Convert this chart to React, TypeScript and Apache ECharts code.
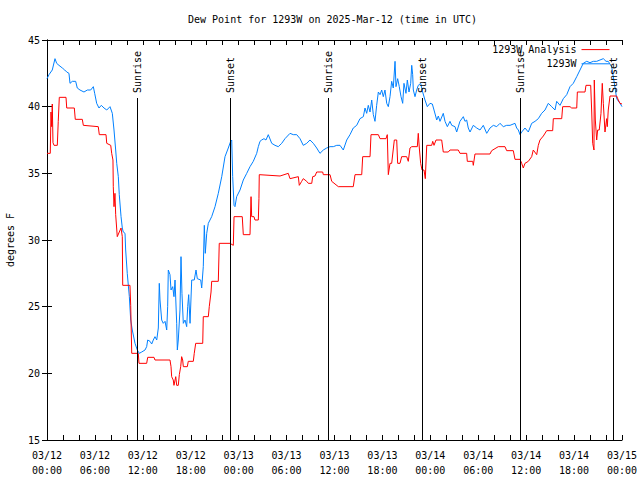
import React, { useEffect, useRef } from "react";
import * as echarts from "echarts";

// hours since 2025-03-12 00:00 UTC
const obsHours = [
  0.0, 0.25, 0.66, 1.0, 1.21, 1.5, 1.92, 2.22, 2.47, 2.75, 2.88, 3.17, 3.59, 3.79, 4.13, 4.63, 5.05, 5.47, 5.8, 5.97,
  6.22, 6.51, 6.8, 7.14, 7.48, 7.89, 8.18, 8.39, 8.6, 8.73, 8.93, 9.05, 9.27, 9.43, 9.55, 9.77, 9.85, 10.05, 10.31, 10.48,
  10.68, 11.02, 11.31, 11.56, 11.86, 12.27, 12.48, 12.61, 12.9, 13.11, 13.31, 13.52, 13.74, 13.94, 14.06, 14.15, 14.36, 14.56, 14.78, 14.99,
  15.11, 15.19, 15.4, 15.53, 15.74, 15.9, 16.03, 16.24, 16.32, 16.44, 16.65, 16.78, 16.9, 17.07, 17.28, 17.49, 17.62, 17.74, 17.91, 18.12,
  18.44, 18.66, 18.82, 19.25, 19.37, 19.57, 19.7, 19.82, 20.0, 20.2, 20.62, 21.04, 21.45, 21.88, 22.29, 22.7, 23.0, 23.13, 23.25, 23.42,
  23.54, 23.75, 24.17, 24.58, 25.01, 25.42, 25.83, 26.26, 26.46, 26.67, 26.88, 27.17, 27.42, 27.71, 28.14, 28.55, 28.96, 29.39, 29.8, 30.43,
  30.84, 31.27, 31.68, 32.09, 32.52, 32.93, 33.35, 33.77, 34.18, 34.6, 35.02, 35.44, 35.85, 36.28, 36.69, 37.1, 37.53, 37.94, 38.35, 38.78,
  39.19, 39.61, 39.82, 40.03, 40.23, 40.45, 40.66, 40.86, 41.07, 41.28, 41.49, 41.7, 41.91, 42.11, 42.32, 42.54, 42.74, 42.95, 43.16, 43.36,
  43.58, 43.7, 43.91, 44.11, 44.33, 44.54, 44.7, 44.95, 45.12, 45.33, 45.54, 45.67, 45.79, 45.87, 46.08, 46.29, 46.49, 46.79, 47.04, 47.33,
  47.62, 47.96, 48.25, 48.46, 48.8, 49.0, 49.21, 49.62, 49.84, 50.13, 50.46, 50.68, 51.09, 51.3, 51.71, 52.13, 52.34, 52.55, 52.75, 52.97,
  53.38, 53.81, 54.22, 54.63, 55.06, 55.47, 55.89, 56.31, 56.72, 57.14, 57.56, 57.98, 58.6, 58.81, 59.02, 59.23, 59.44, 59.85, 60.27, 60.69,
  61.11, 61.52, 61.94, 62.36, 62.77, 63.2, 63.61, 63.82, 64.24, 64.65, 65.08, 65.49, 65.9, 66.33, 66.74, 67.15, 67.58, 67.99, 68.41, 68.83,
  69.24, 69.66, 70.0, 70.28, 70.7, 70.91, 71.21, 71.33, 71.75, 72.0,
];
const obsValues = [
  42.1, 42.4, 42.75, 43.6, 43.25, 43.1, 42.9, 42.75, 42.6, 42.5, 41.75, 41.9, 41.9, 41.4, 41.25, 41.1, 41.25, 41.25, 41.5, 41.0,
  40.25, 39.9, 40.1, 39.9, 39.75, 40.0, 39.5, 38.25, 36.75, 35.75, 34.75, 33.4, 31.75, 30.9, 30.6, 30.5, 29.25, 27.5, 25.75, 24.0,
  23.25, 22.25, 21.75, 21.5, 21.6, 21.75, 22.0, 22.5, 22.4, 22.2, 22.5, 22.75, 22.5, 23.4, 26.75, 25.5, 24.0, 23.75, 23.9, 23.25,
  25.0, 27.75, 27.4, 26.25, 26.5, 25.75, 27.0, 23.75, 21.75, 22.5, 24.75, 28.75, 26.0, 23.75, 24.0, 23.5, 25.0, 25.9, 23.75, 27.0,
  27.0, 27.75, 27.1, 27.0, 26.4, 28.0, 31.1, 29.0, 30.5, 31.25, 31.75, 32.5, 33.5, 34.75, 36.25, 36.9, 37.4, 37.5, 34.75, 32.6,
  32.5, 33.25, 33.75, 34.5, 35.0, 35.5, 35.9, 36.5, 37.0, 37.4, 37.5, 37.6, 37.5, 37.9, 37.25, 37.1, 37.0, 37.25, 37.6, 38.0,
  37.9, 37.9, 37.6, 37.1, 37.25, 37.5, 37.25, 36.9, 36.5, 36.75, 36.9, 37.0, 37.0, 37.1, 37.1, 36.75, 37.5, 37.9, 38.4, 38.6,
  39.1, 39.25, 39.9, 39.5, 40.1, 39.6, 40.5, 39.4, 38.9, 40.1, 41.1, 40.9, 41.25, 40.75, 41.25, 40.25, 40.0, 40.75, 41.9, 41.4,
  43.4, 41.5, 42.1, 41.5, 40.75, 40.25, 41.75, 41.0, 42.0, 41.1, 41.75, 43.1, 42.4, 41.25, 40.75, 41.25, 41.6, 41.75, 41.1, 40.5,
  40.0, 40.25, 40.2, 39.75, 39.0, 39.3, 38.9, 39.5, 38.9, 38.5, 38.9, 38.6, 38.5, 38.1, 38.9, 39.25, 38.9, 39.0, 38.4, 38.1,
  38.6, 38.4, 38.25, 38.6, 38.0, 38.4, 38.6, 38.5, 38.75, 38.5, 38.6, 38.6, 38.75, 38.4, 38.25, 37.9, 38.1, 38.4, 38.1, 38.75,
  38.9, 39.1, 39.5, 39.75, 40.25, 40.0, 39.75, 40.4, 40.1, 40.6, 40.9, 41.5, 41.75, 42.25, 42.75, 43.25, 43.4, 43.3, 43.4, 43.4,
  43.5, 43.6, 43.4, 43.4, 43.0, 42.25, 41.1, 40.6, 40.25, 40.0,
];

const anaHours = [
  0.0, 0.41, 0.5, 0.59, 0.66, 0.75, 0.88, 1.29, 1.41, 1.54, 2.38, 2.47, 3.42, 3.54, 4.42, 4.55, 6.42, 6.55, 7.39, 7.48,
  7.98, 8.1, 8.26, 8.3, 8.39, 8.51, 8.6, 8.8, 9.05, 9.27, 9.43, 9.48, 10.39, 10.48, 10.61, 11.43, 11.52, 12.48, 12.61, 13.4,
  13.52, 15.4, 15.53, 15.61, 15.81, 15.9, 16.12, 16.24, 16.44, 16.57, 16.74, 16.86, 16.99, 17.07, 17.57, 17.69, 18.32, 18.44, 18.62, 19.5,
  19.57, 20.2, 20.32, 20.54, 20.62, 21.45, 21.57, 22.92, 23.33, 23.42, 24.45, 24.58, 25.42, 25.55, 25.63, 25.92, 26.04, 26.46, 26.54, 26.58,
  29.18, 30.21, 30.43, 31.47, 31.59, 31.89, 32.09, 32.52, 32.72, 33.15, 33.27, 33.56, 33.77, 34.52, 34.6, 35.44, 35.65, 36.48, 38.35, 38.57,
  39.41, 39.53, 40.45, 40.57, 41.49, 41.7, 42.45, 42.61, 42.74, 42.95, 43.16, 43.49, 43.79, 43.91, 44.2, 44.41, 45.04, 45.24, 45.45, 45.67,
  46.37, 46.49, 46.62, 46.79, 46.96, 47.21, 47.37, 47.55, 48.17, 48.3, 48.46, 48.71, 49.42, 49.62, 50.25, 50.46, 51.5, 51.71, 52.55, 52.63,
  53.31, 53.38, 53.59, 55.47, 55.68, 56.51, 57.35, 57.56, 58.39, 58.6, 59.23, 59.44, 59.64, 59.85, 60.27, 60.69, 60.89, 61.32, 61.52, 61.73,
  62.15, 62.57, 63.32, 63.4, 64.45, 64.57, 65.49, 65.7, 66.33, 66.41, 67.37, 67.49, 68.08, 68.21, 68.33, 68.49, 68.53, 68.66, 68.83, 68.95,
  69.15, 69.37, 69.53, 69.66, 69.87, 70.08, 70.16, 70.28, 70.5, 71.33, 71.54, 71.75, 72.0,
];
const anaValues = [
  36.5, 36.5, 39.6, 38.5, 40.2, 37.3, 37.1, 37.1, 38.9, 40.7, 40.7, 39.9, 39.9, 39.05, 39.05, 38.6, 38.5, 37.9, 37.9, 37.25,
  37.1, 36.5, 36.0, 34.0, 32.5, 33.5, 31.9, 30.25, 30.6, 30.9, 30.25, 26.6, 26.6, 25.1, 21.5, 21.5, 20.75, 20.75, 21.2, 21.2,
  21.0, 21.0, 20.5, 19.75, 19.5, 19.1, 19.75, 19.1, 19.1, 19.9, 20.5, 21.25, 21.0, 20.5, 20.5, 20.9, 20.9, 21.5, 22.25, 22.25,
  24.25, 24.25, 25.0, 26.1, 26.9, 26.9, 29.75, 29.75, 29.6, 31.75, 31.75, 30.4, 30.4, 33.25, 31.75, 31.75, 31.5, 31.5, 33.1, 34.9,
  34.8, 35.0, 34.6, 34.75, 34.1, 34.4, 34.6, 34.4, 34.25, 34.25, 34.75, 34.8, 35.1, 35.1, 34.9, 34.9, 34.4, 34.0, 34.0, 34.9,
  34.9, 36.25, 36.25, 37.9, 37.9, 37.6, 37.6, 37.9, 34.9, 35.75, 35.75, 37.5, 37.5, 35.75, 35.75, 36.25, 36.25, 35.9, 36.9, 37.0,
  37.0, 38.0, 36.9, 35.75, 35.25, 35.25, 34.6, 37.1, 37.1, 37.4, 37.1, 37.5, 37.5, 36.6, 36.6, 36.75, 36.75, 36.5, 36.5, 35.9,
  35.9, 35.6, 36.45, 36.45, 36.7, 37.0, 37.0, 36.7, 36.7, 36.05, 36.05, 35.75, 35.4, 35.75, 35.9, 36.25, 36.75, 36.4, 37.1, 37.5,
  37.8, 38.2, 38.2, 39.1, 39.1, 40.0, 40.0, 39.9, 39.9, 41.1, 41.1, 41.6, 41.6, 39.6, 37.25, 36.75, 42.0, 39.0, 37.5, 38.25,
  38.25, 39.5, 41.75, 40.25, 38.1, 39.1, 38.5, 39.75, 40.8, 40.8, 40.5, 40.25, 40.2,
];

const sunHours = [11.31, 22.92, 35.22, 46.99, 59.23, 70.91];
const sunLabels = ["Sunrise", "Sunset", "Sunrise", "Sunset", "Sunrise", "Sunset"];
const sunLineTop = 40.65;
const sunLabelTop = 44.9;

const yMin = 15;
const yMax = 45;
const xMin = 0;
const xMax = 72;

const FONT = "'DejaVu Sans Mono', 'Liberation Mono', monospace";

function pad(n: number) {
  return n < 10 ? "0" + n : "" + n;
}

export default function App() {
  const ref = useRef<HTMLDivElement>(null);
  useEffect(() => {
    if (!ref.current) return;
    const chart = echarts.init(ref.current, null, { renderer: "svg" });
    const zip = (h: number[], v: number[]) => h.map((x, i) => [x, v[i]]);
    const axisCommon = {
      type: "value" as const,
      axisLine: { show: true, lineStyle: { color: "#000", width: 1 } },
      axisTick: { show: true, inside: true, length: 5, lineStyle: { color: "#000" } },
      splitLine: { show: false },
    };
    chart.setOption({
      animation: false,
      backgroundColor: "#fff",
      title: {
        text: "Dew Point for 1293W on 2025-Mar-12 (time in UTC)",
        left: 188,
        top: 14,
        padding: 0,
        textStyle: { fontFamily: FONT, fontSize: 10, fontWeight: "normal", color: "#000" },
      },
      legend: {
        data: ["1293W Analysis", "1293W"],
        orient: "vertical",
        right: 30,
        top: 44,
        padding: 0,
        align: "right",
        itemWidth: 28,
        itemHeight: 14,
        itemGap: 3,
        itemStyle: { opacity: 0 },
        lineStyle: { width: 1 },
        textStyle: { fontFamily: FONT, fontSize: 10, color: "#000" },
      },
      grid: { left: 47, right: 18, top: 40, bottom: 40, containLabel: false, outerBoundsMode: "none" },
      xAxis: [
        {
          ...axisCommon,
          position: "bottom",
          min: xMin,
          max: xMax,
          interval: 2,
          axisLabel: {
            show: true,
            margin: 8,
            fontFamily: FONT,
            fontSize: 10,
            color: "#000",
            lineHeight: 15,
            formatter: (v: number) => {
              if (v % 6 !== 0) return "";
              const day = 12 + Math.floor(v / 24);
              const hr = v % 24;
              return "03/" + pad(day) + "\n" + pad(hr) + ":00";
            },
          },
        },
        {
          ...axisCommon,
          position: "top",
          min: xMin,
          max: xMax,
          interval: 2,
          axisLabel: { show: false },
        },
      ],
      yAxis: [
        {
          ...axisCommon,
          position: "left",
          min: yMin,
          max: yMax,
          interval: 5,
          name: "degrees F",
          nameLocation: "middle",
          nameRotate: 90,
          nameGap: 32,
          nameTextStyle: { fontFamily: FONT, fontSize: 10, color: "#000" },
          axisLabel: { margin: 7, fontFamily: FONT, fontSize: 10, color: "#000" },
        },
        {
          ...axisCommon,
          position: "right",
          min: yMin,
          max: yMax,
          interval: 5,
          axisLabel: { show: false },
        },
      ],
      series: [
        {
          name: "1293W Analysis",
          type: "line",
          data: zip(anaHours, anaValues),
          symbol: "none",
          showSymbol: false,
          lineStyle: { color: "#ff0000", width: 1 },
          itemStyle: { color: "#ff0000" },
          z: 3,
          markLine: {
            silent: true,
            symbol: ["none", "none"],
            lineStyle: { color: "#000", width: 1, type: "solid" },
            data: [
              ...sunHours.map((h) => [{ coord: [h, yMin] }, { coord: [h, sunLineTop] }]),
              ...sunHours.map((h, i) => [
                {
                  name: sunLabels[i],
                  coord: [h, sunLineTop],
                  lineStyle: { color: "rgba(0,0,0,0)", width: 0 },
                  label: {
                    show: true,
                    position: "insideStart",
                    distance: [5, 0],
                    fontFamily: FONT,
                    fontSize: 10,
                    color: "#000",
                    formatter: sunLabels[i],
                  },
                },
                { coord: [h, sunLabelTop] },
              ]),
            ],
            label: { show: false },
          },
        },
        {
          name: "1293W",
          type: "line",
          data: zip(obsHours, obsValues),
          symbol: "none",
          showSymbol: false,
          lineStyle: { color: "#0080ff", width: 1 },
          itemStyle: { color: "#0080ff" },
          z: 2,
        },
      ],
    });
    return () => chart.dispose();
  }, []);
  return (
    <div
      ref={ref}
      style={{ position: "fixed", left: 0, top: 0, width: 640, height: 480, background: "#fff" }}
    />
  );
}
